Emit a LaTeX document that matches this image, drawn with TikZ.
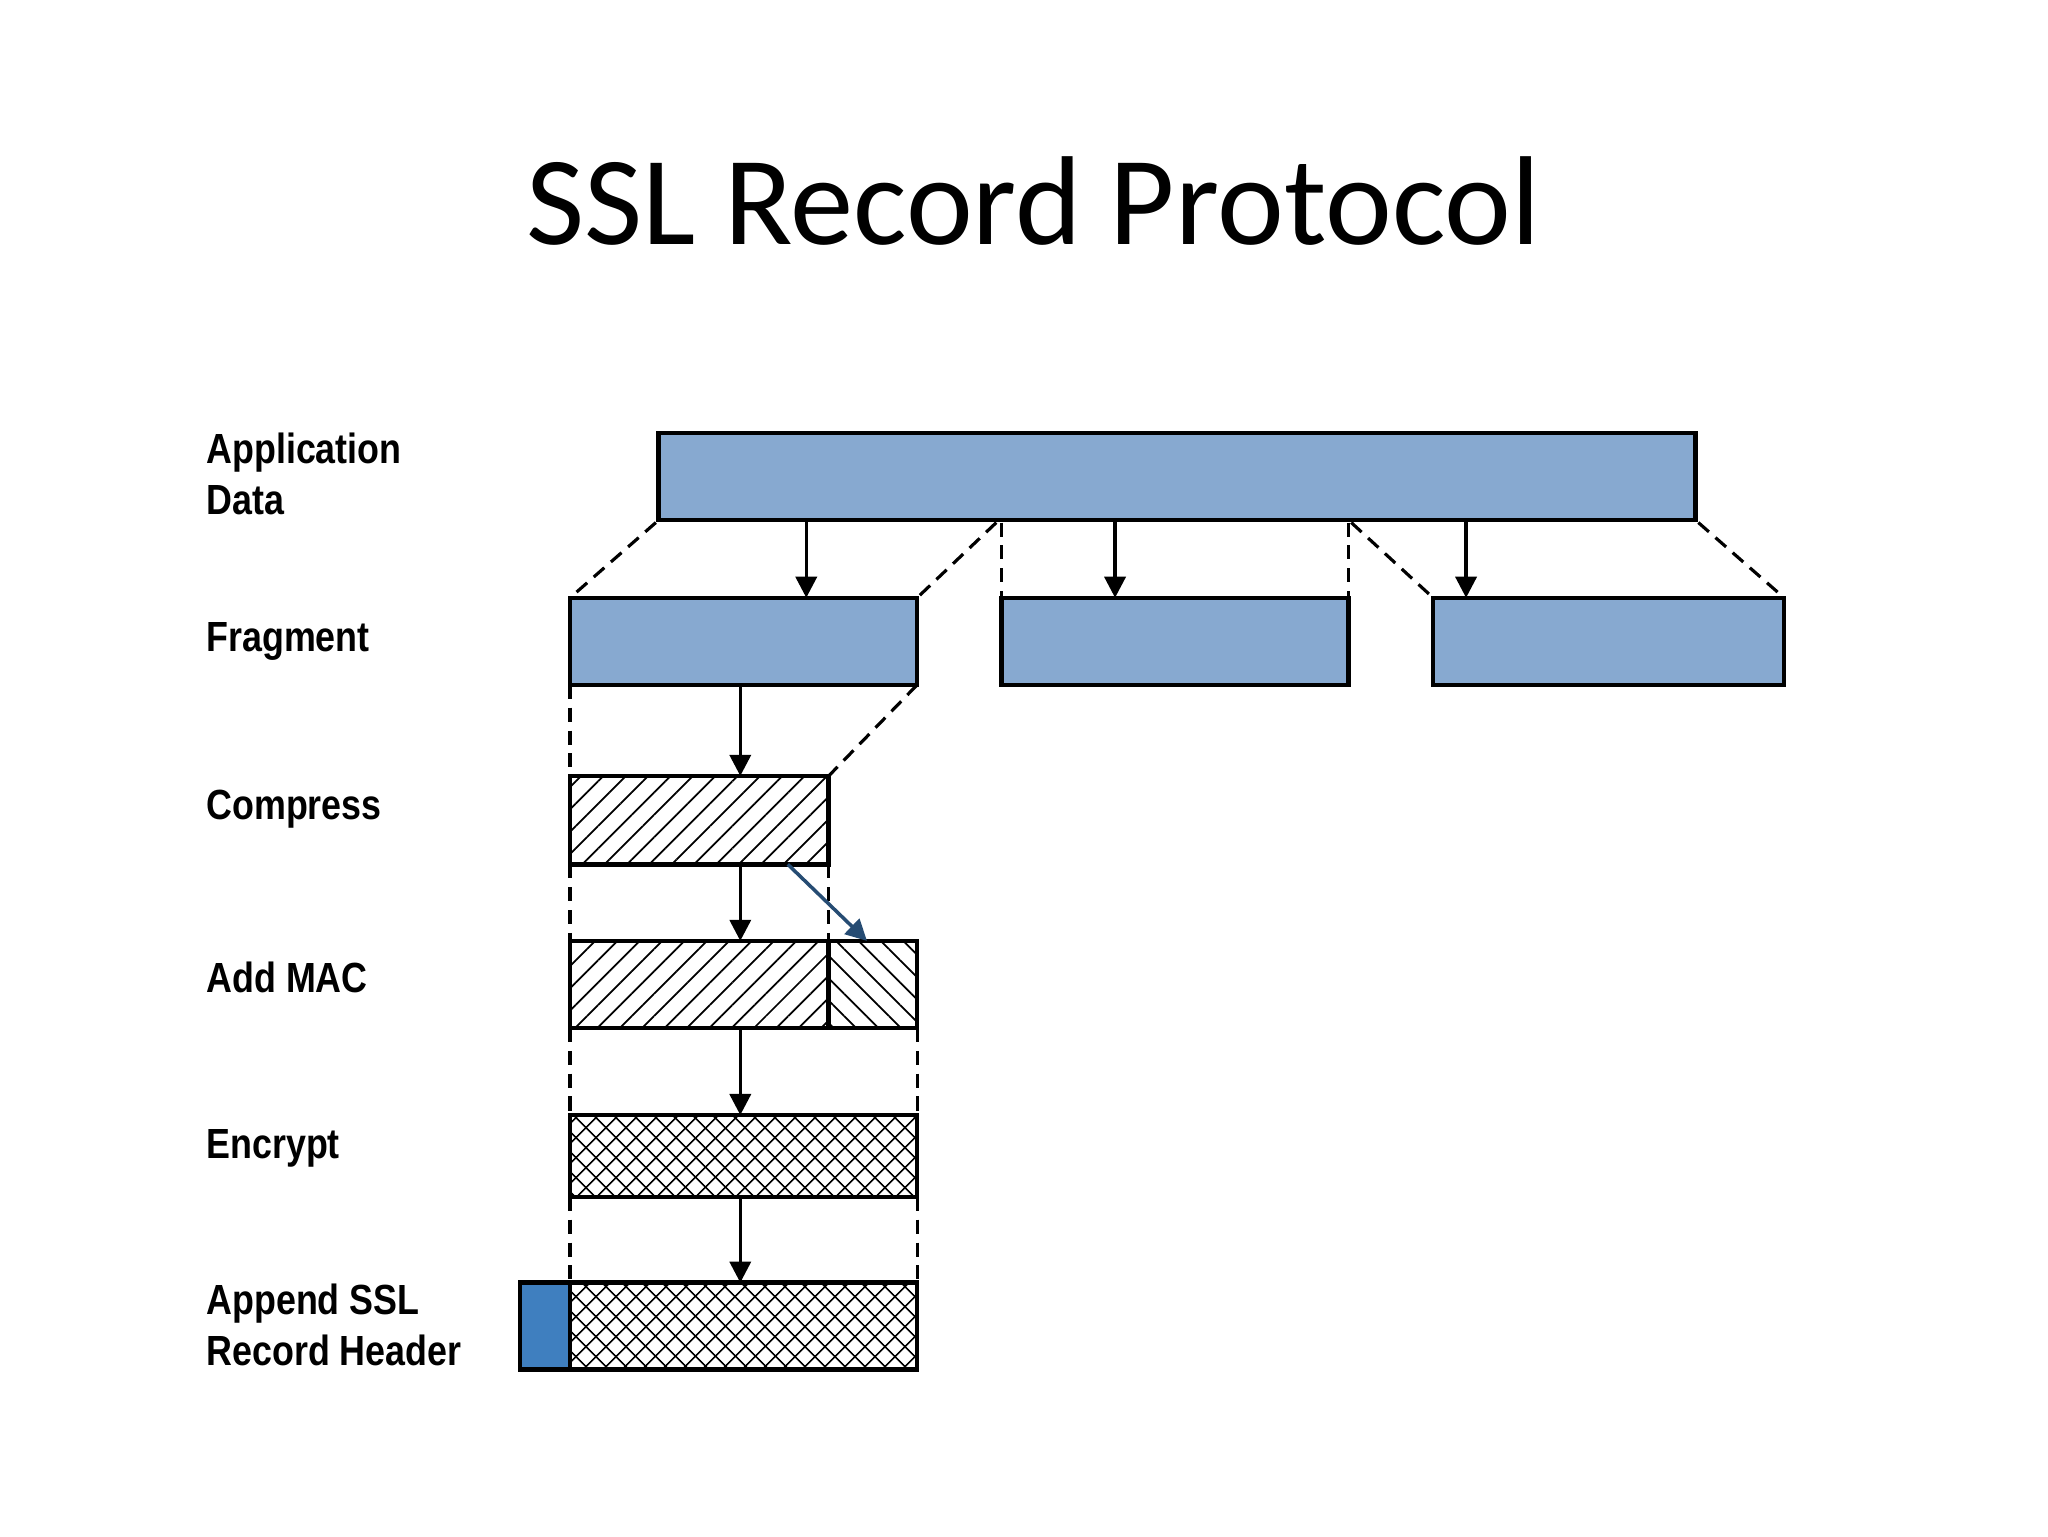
\documentclass[tikz,border=0pt]{standalone}
\usepackage{fontspec}
\setmainfont{Carlito}
\newfontfamily\lbl{Liberation Sans}
\usetikzlibrary{arrows.meta,patterns.meta}
\definecolor{fragblue}{HTML}{87A9D0}
\definecolor{hdrblue}{HTML}{3F7FBF}
\begin{document}
\begin{tikzpicture}[x=0.0132cm,y=-0.0132cm,
  box/.style={draw,line width=1.3pt},
  frag/.style={box,fill=fragblue},
  hatchA/.style={box,pattern={Lines[angle=45,distance=4.5pt,line width=0.5pt]}},
  hatchB/.style={box,pattern={Lines[angle=-45,distance=4.5pt,line width=0.5pt]}},
  cross/.style={box,pattern={Lines[angle=45,distance=4pt,line width=0.5pt]},postaction={pattern={Lines[angle=-45,distance=4pt,line width=0.5pt]}}},
  guide/.style={line width=0.9pt,dash pattern=on 4pt off 2.5pt},
  arr/.style={-{Triangle[length=6pt,width=6pt]},line width=1pt},
  lab/.style={anchor=west,font=\lbl\bfseries\fontsize{12}{14.5}\selectfont,align=left,inner sep=0pt,xscale=0.85}]
\useasboundingbox (0,0) rectangle (1552,1164);
\node[font=\fontsize{36}{44}\selectfont] (title) at (783,152) {SSL Record Protocol};
% labels
\node[lab] (l1) at (156,359) {Application\\Data};
\node[lab] (l2) at (156,486) {Fragment};
\node[lab] (l3) at (156,613) {Compress};
\node[lab] (l4) at (156,741) {Add MAC};
\node[lab] (l5) at (156,870) {Encrypt};
\node[lab] (l6) at (156,1004) {Append SSL\\Record Header};
% boxes
\draw[frag] (499,328) rectangle (1285,394);
\draw[frag] (432,453) rectangle (695,519);
\draw[frag] (759,453) rectangle (1022,519);
\draw[frag] (1086,453) rectangle (1352,519);
\draw[hatchA] (432,588) rectangle (628,655);
\draw[hatchA] (432,713) rectangle (628,779);
\draw[hatchB] (628,713) rectangle (695,779);
\draw[cross] (432,845) rectangle (695,907);
\draw[box,fill=hdrblue] (394,972) rectangle (432,1038);
\draw[cross] (432,972) rectangle (695,1038);
% dashed guides
\draw[guide] (497,396) -- (432,453);
\draw[guide] (755,396) -- (695,453);
\draw[guide] (759,396) -- (759,453);
\draw[guide] (1022,396) -- (1022,453);
\draw[guide] (1024,396) -- (1086,453);
\draw[guide] (1287,396) -- (1352,453);
\draw[guide] (432,519) -- (432,588);
\draw[guide] (695,519) -- (628,588);
\draw[guide] (432,655) -- (432,713);
\draw[guide] (628,655) -- (628,713);
\draw[guide] (432,779) -- (432,845);
\draw[guide] (695,779) -- (695,845);
\draw[guide] (432,907) -- (432,972);
\draw[guide] (695,907) -- (695,972);
% arrows
\draw[arr] (611,394) -- (611,453);
\draw[arr] (845,394) -- (845,453);
\draw[arr] (1111,394) -- (1111,453);
\draw[arr] (561,519) -- (561,588);
\draw[arr] (561,655) -- (561,713);
\draw[arr,draw=hdrblue!60!black] (597,655) -- (657,713);
\draw[arr] (561,779) -- (561,845);
\draw[arr] (561,907) -- (561,972);
\end{tikzpicture}
\end{document}
